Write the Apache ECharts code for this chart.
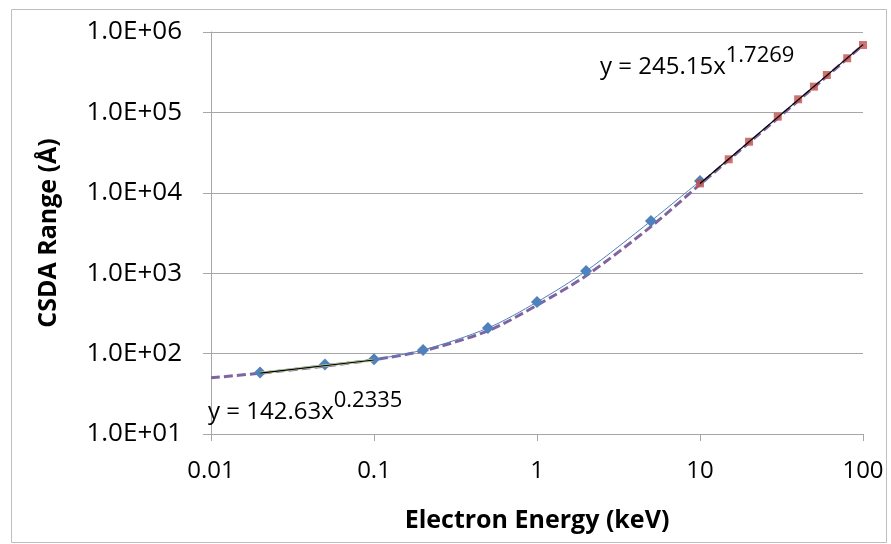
<!DOCTYPE html>
<html>
<head>
<meta charset="utf-8">
<script src="https://cdn.jsdelivr.net/npm/echarts@6/dist/echarts.min.js"></script>
<style>
  html, body { margin: 0; padding: 0; background: #ffffff; }
  #chart { width: 891px; height: 544px; }
</style>
</head>
<body>
<div id="chart"></div>
<script>
// Low-energy table (keV -> CSDA range in Å)
const energyLow = [0.02, 0.05, 0.1, 0.2, 0.5, 1, 2, 5, 10];
const rangeLow = [58, 73, 85, 111, 208, 438, 1064, 4460, 14000];

// High-energy table
const energyHigh = [10, 15, 20, 30, 40, 50, 60, 80, 100];
const rangeHigh = [13100, 26100, 43200, 88500, 145500, 209000, 292000, 471000, 689000];

// Overall smooth trend across the full energy span
const trendEnergy = [0.01, 0.02, 0.05, 0.1, 0.2, 0.5, 1, 2, 5, 10, 20, 50, 100];
const trendRange = [50, 57, 70, 84, 108, 192, 400, 930, 3800, 12700, 42000, 205000, 690000];

// Power-law fits (end points of each fitted segment)
const lowFitEnergy = [0.02, 0.1];
const lowFitRange = [57.2, 83.3];
const highFitEnergy = [10, 100];
const highFitRange = [13070, 697000];

// Axis tick labels, indexed by decade
const xTickLabels = ['0.01', '0.1', '1', '10', '100'];
const yTickLabels = ['1.0E+01', '1.0E+02', '1.0E+03', '1.0E+04', '1.0E+05', '1.0E+06'];

const lowFitText = { main: 'y = 142.63x', exp: '0.2335' };
const highFitText = { main: 'y = 245.15x', exp: '1.7269' };

const FONT = '"Open Sans", "Liberation Sans", sans-serif';

function pairs(xs, ys) { return xs.map((x, i) => [x, ys[i]]); }

const chart = echarts.init(document.getElementById('chart'), null, { renderer: 'canvas' });

const eqRich = {
  a: { fontFamily: FONT, fontSize: 24, color: '#000', verticalAlign: 'bottom', lineHeight: 34 },
  b: { fontFamily: FONT, fontSize: 22, color: '#000', verticalAlign: 'top', lineHeight: 34 }
};

chart.setOption({
  backgroundColor: '#ffffff',
  animation: false,
  grid: { left: 211, right: 28, top: 32, bottom: 110, containLabel: false },
  xAxis: {
    type: 'log', logBase: 10, min: 0.01, max: 100,
    name: 'Electron Energy (keV)', nameLocation: 'middle', nameGap: 74,
    nameTextStyle: { fontFamily: FONT, fontWeight: 'bold', fontSize: 25, color: '#000' },
    axisLine: { show: true, lineStyle: { color: '#a6a6a6', width: 1 } },
    axisTick: { show: true, inside: false, length: 7, lineStyle: { color: '#a6a6a6' } },
    minorTick: { show: false },
    splitLine: { show: false },
    axisLabel: {
      margin: 25, fontFamily: FONT, fontSize: 24, color: '#000',
      formatter: v => xTickLabels[Math.round(Math.log10(v)) + 2]
    }
  },
  yAxis: {
    type: 'log', logBase: 10, min: 10, max: 1000000,
    name: 'CSDA Range (Å)', nameLocation: 'middle', nameGap: 150, nameRotate: 90,
    nameTextStyle: { fontFamily: FONT, fontWeight: 'bold', fontSize: 25, color: '#000' },
    axisLine: { show: true, lineStyle: { color: '#a6a6a6', width: 1 } },
    axisTick: { show: true, inside: false, length: 8, lineStyle: { color: '#a6a6a6' } },
    splitLine: { show: true, lineStyle: { color: '#a6a6a6', width: 1 } },
    axisLabel: {
      margin: 29, fontFamily: FONT, fontSize: 26, color: '#000',
      formatter: v => yTickLabels[Math.round(Math.log10(v)) - 1]
    }
  },
  graphic: [
    {
      type: 'rect', left: 9, top: 7, z: -10, silent: true,
      shape: { width: 875, height: 533 },
      style: { fill: 'none', stroke: '#bfbfbf', lineWidth: 1 }
    },
    {
      type: 'text', left: 600, top: 45, z: 100,
      style: { text: '{a|' + highFitText.main + '}{b|' + highFitText.exp + '}', rich: eqRich }
    },
    {
      type: 'text', left: 208, top: 390, z: 100,
      style: { text: '{a|' + lowFitText.main + '}{b|' + lowFitText.exp + '}', rich: eqRich }
    }
  ],
  series: [
    {
      name: 'trend', type: 'line', z: 2,
      data: pairs(trendEnergy, trendRange),
      smooth: 0.3, showSymbol: false, symbol: 'none',
      lineStyle: { color: '#8064a2', width: 3, type: [9, 4] }
    },
    {
      name: 'low', type: 'line', z: 3,
      data: pairs(energyLow, rangeLow),
      smooth: 0.3, symbol: 'diamond', symbolSize: 12,
      itemStyle: { color: '#4f81bd' },
      lineStyle: { color: '#4f81bd', width: 1 }
    },
    {
      name: 'high', type: 'scatter', z: 4,
      data: pairs(energyHigh, rangeHigh),
      symbol: 'rect', symbolSize: 8,
      itemStyle: { color: '#c0504d' }
    },
    {
      name: 'lowFitShade', type: 'line', z: 5,
      data: pairs(lowFitEnergy, lowFitRange), symbol: 'none',
      lineStyle: { color: '#c4d79b', width: 2.5 }
    },
    {
      name: 'lowFit', type: 'line', z: 6,
      data: pairs(lowFitEnergy, lowFitRange), symbol: 'none',
      lineStyle: { color: '#000000', width: 1.2 }
    },
    {
      name: 'highFit', type: 'line', z: 6,
      data: pairs(highFitEnergy, highFitRange), symbol: 'none',
      lineStyle: { color: '#000000', width: 1.2 }
    }
  ]
});
</script>
</body>
</html>
